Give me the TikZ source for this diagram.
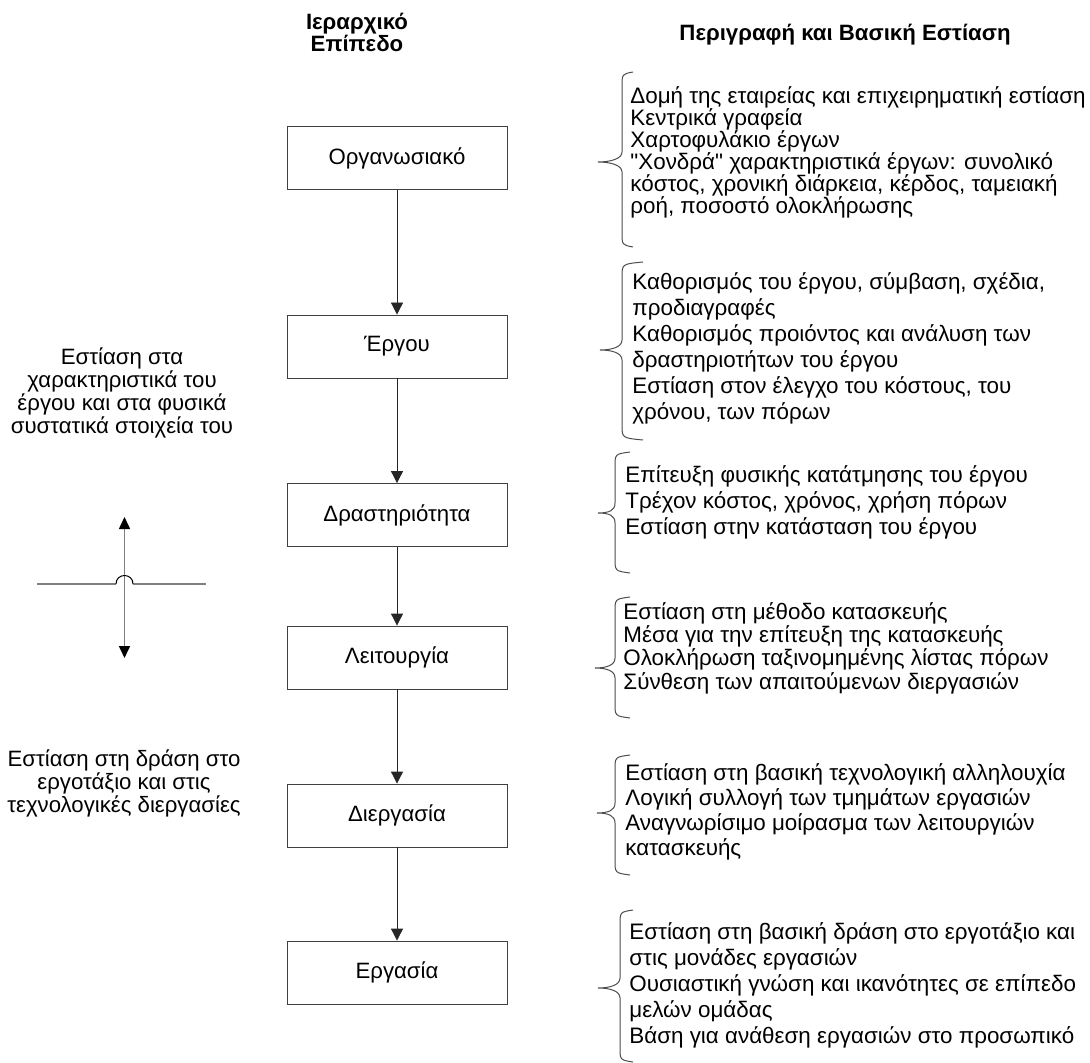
\documentclass[tikz,border=0pt]{standalone}
\usepackage{fontspec}
\setmainfont{Liberation Sans}
\usepackage{tikz}
\usetikzlibrary{arrows.meta, positioning}

% brace: end x, line x, tip x, top y, tip y, bottom y
\newcommand{\descbrace}[6]{%
  \draw[bracel] (#1,#4) .. controls (#2,#4+2) .. (#2,#4+15) -- (#2,#5-10)
    .. controls (#2,#5-3) and (#3+12,#5) .. (#3,#5)
    .. controls (#3+12,#5) and (#2,#5+3) .. (#2,#5+10) -- (#2,#6-15)
    .. controls (#2,#6-2) .. (#1,#6);}

\begin{document}
\begin{tikzpicture}[
    x=0.5pt, y=-0.5pt,
    level/.style={draw=black!75, rectangle, minimum width=110pt, minimum height=31.5pt, font=\fontsize{11.1}{12}\selectfont},
    arrow/.style={-{Triangle[width=6pt,length=6pt]}, black!85},
    head/.style={align=center, font=\fontsize{11.1}{11}\selectfont\bfseries},
    desc/.style={anchor=west, align=left, inner sep=0pt, font=\fontsize{11.2}{#1}\selectfont},
    side/.style={align=center, inner sep=0pt, font=\fontsize{11.1}{11.5}\selectfont},
    bracel/.style={black!70, line width=0.5pt},
    cross/.style={gray, line width=0.8pt}
  ]
  \useasboundingbox (0,0) rectangle (1090,1063);

  % --- headers ---
  \node[head] (hlevel) at (357,32) {Ιεραρχικό\\Επίπεδο};
  \node[head] (hdesc) at (845,35) {Περιγραφή και Βασική Εστίαση};

  % --- levels ---
  \node[level] (org) at (397,158) {Οργανωσιακό};
  \node[level] (erg) at (397,346.5) {Έργου};
  \node[level] (dra) at (397,515) {Δραστηριότητα};
  \node[level] (lei) at (397,657.5) {Λειτουργία};
  \node[level] (die) at (397,815.5) {Διεργασία};
  \node[level] (ergas) at (397,972.5) {Εργασία};

  \draw[arrow] (org) -- (erg);
  \draw[arrow] (erg) -- (dra);
  \draw[arrow] (dra) -- (lei);
  \draw[arrow] (lei) -- (die);
  \draw[arrow] (die) -- (ergas);

  % --- descriptions ---
  \descbrace{633}{622}{598}{72}{162}{247}
  \node[desc=11] (dorg) at (630,152) {Δομή της εταιρείας και επιχειρηματική εστίαση\\Κεντρικά γραφεία\\Χαρτοφυλάκιο έργων\\\textquotedbl Χονδρά\textquotedbl{} χαρακτηριστικά έργων: συνολικό\\κόστος, χρονική διάρκεια, κέρδος, ταμειακή\\ροή, ποσοστό ολοκλήρωσης};

  \descbrace{643}{622}{600}{262}{350}{440}
  \node[desc=13] (derg) at (632,348) {Καθορισμός του έργου, σύμβαση, σχέδια,\\προδιαγραφές\\Καθορισμός προιόντος και ανάλυση των\\δραστηριοτήτων του έργου\\Εστίαση στον έλεγχο του κόστους, του\\χρόνου, των πόρων};

  \descbrace{630}{615}{598}{452}{513}{573}
  \node[desc=13] (ddra) at (625,502) {Επίτευξη φυσικής κατάτμησης του έργου\\Τρέχον κόστος, χρόνος, χρήση πόρων\\Εστίαση στην κατάσταση του έργου};

  \descbrace{630}{615}{595}{597}{668}{718}
  \node[desc=11.7] (dlei) at (623,648) {Εστίαση στη μέθοδο κατασκευής\\Μέσα για την επίτευξη της κατασκευής\\Ολοκλήρωση ταξινομημένης λίστας πόρων\\Σύνθεση των απαιτούμενων διεργασιών};

  \descbrace{630}{615}{597}{755}{813}{875}
  \node[desc=12.5] (ddie) at (625,812) {Εστίαση στη βασική τεχνολογική αλληλουχία\\Λογική συλλογή των τμημάτων εργασιών\\Αναγνωρίσιμο μοίρασμα των λειτουργιών\\κατασκευής};

  \descbrace{633}{620}{598}{910}{988}{1062}
  \node[desc=13] (dergas) at (629,985) {Εστίαση στη βασική δράση στο εργοτάξιο και\\στις μονάδες εργασιών\\Ουσιαστική γνώση και ικανότητες σε επίπεδο\\μελών ομάδας\\Βάση για ανάθεση εργασιών στο προσωπικό};

  % --- left side ---
  \node[side] (sproj) at (122,393) {Εστίαση στα\\χαρακτηριστικά του\\έργου και στα φυσικά\\συστατικά στοιχεία του};
  \node[side] (ssite) at (124,783) {Εστίαση στη δράση στο\\εργοτάξιο και στις\\τεχνολογικές διεργασίες};

  \coordinate (up) at (124.5,517);
  \coordinate (down) at (124.5,658);
  \coordinate (hl) at (37,584);
  \coordinate (hr) at (206,584);
  \draw[cross, {Triangle[width=5.5pt,length=6pt,color=black]}-{Triangle[width=5.5pt,length=6pt,color=black]}] (up) -- (down);
  \draw[cross] (hl) -- (116,584);
  \draw[cross] (133,584) -- (hr);
  \draw[black, line width=0.5pt] (116,584) .. controls (116,572.7) and (133,572.7) .. (133,584);
\end{tikzpicture}
\end{document}
